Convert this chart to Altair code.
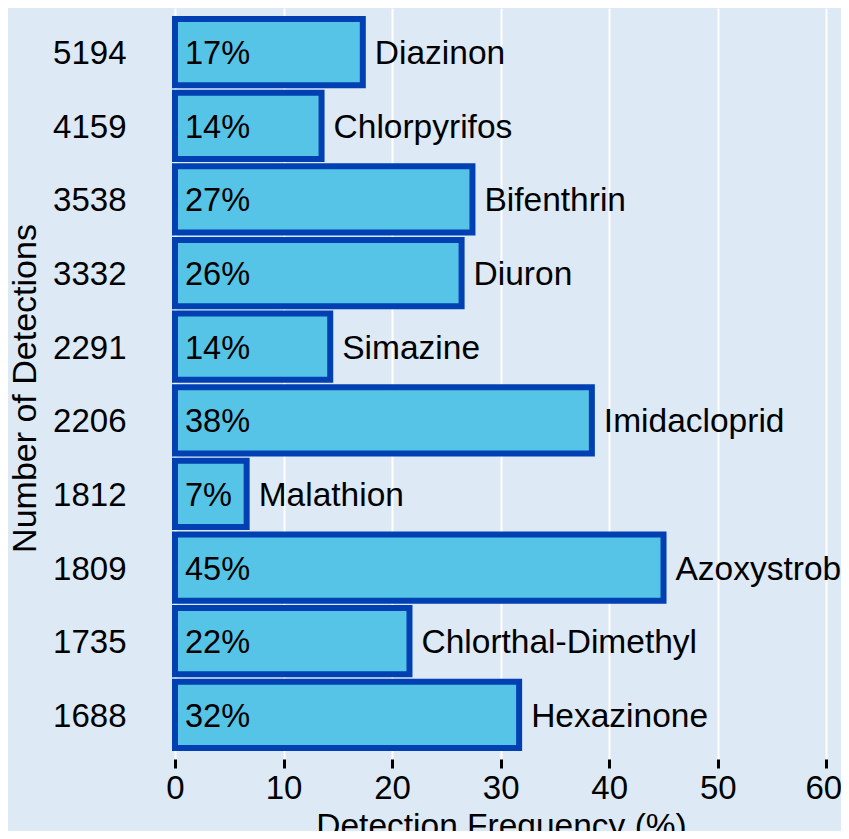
import altair as alt
import pandas as pd

names = ["Diazinon", "Chlorpyrifos", "Bifenthrin", "Diuron", "Simazine",
         "Imidacloprid", "Malathion", "Azoxystrobin", "Chlorthal-Dimethyl", "Hexazinone"]
detections = [5194, 4159, 3538, 3332, 2291, 2206, 1812, 1809, 1735, 1688]
frequency = [17.3, 13.5, 27.4, 26.4, 14.3, 38.4, 6.6, 45.0, 21.6, 31.7]
pct_labels = ["17%", "14%", "27%", "26%", "14%", "38%", "7%", "45%", "22%", "32%"]
x_ticks = [0, 10, 20, 30, 40, 50, 60]

FONT = "Liberation Sans"

df = pd.DataFrame({
    "name": names,
    "det": [str(d) for d in detections],
    "freq": frequency,
    "pct": pct_labels,
})
order = [str(d) for d in detections]

x_enc = alt.X(
    "freq:Q",
    scale=alt.Scale(domain=[0, 61.35], nice=False, zero=True),
    axis=alt.Axis(
        values=x_ticks, title="Detection Frequency (%)", grid=True,
        gridColor="white", gridWidth=2, domain=False,
        tickColor="black", tickWidth=3, tickSize=9,
        labelFont=FONT, labelFontSize=33, labelColor="black", labelPadding=4,
        labelFlush=False,
        labelOffset=alt.expr("datum.value == 60 ? -3 : 0"),
        titleFont=FONT, titleFontSize=33.5, titleFontWeight="normal", titleColor="black",
        titleX=326, titleY=77, titleAlign="center", titleBaseline="alphabetic",
    ),
)
y_enc = alt.Y(
    "det:N",
    sort=order,
    scale=alt.Scale(paddingInner=0.1, paddingOuter=0.15),
    axis=alt.Axis(
        title="Number of Detections", grid=False, ticks=False, domain=False,
        labelFont=FONT, labelFontSize=33, labelColor="black", labelPadding=49,
        labelOffset=2,
        titleFont=FONT, titleFontSize=34, titleFontWeight="normal", titleColor="black",
        titleX=-150, titleY=380, titleAngle=-90, titleAlign="center", titleBaseline="middle",
    ),
)

bars = alt.Chart(df).mark_bar(
    fill="#56c4e6", stroke="#0040b2", strokeWidth=6, cornerRadius=0
).encode(x=x_enc, y=y_enc)

pct = alt.Chart(df).mark_text(
    align="left", baseline="middle", dx=10, dy=2, font=FONT, fontSize=32.5, color="black"
).encode(x=alt.value(0), y=y_enc, text="pct:N")

lbl = alt.Chart(df).mark_text(
    align="left", baseline="middle", dx=12, dy=2, font=FONT, fontSize=33.5, color="black", clip=True
).encode(x=x_enc, y=y_enc, text="name:N")

chart = alt.layer(bars, pct, lbl).properties(
    width=666, height=751,
    padding={"left": 167, "top": 0, "right": 0, "bottom": 72},
    autosize=alt.AutoSizeParams(type="none"),
    background="#dde9f5",
).configure_view(stroke=None)

chart.save("out.html", embed_options={"renderer": "svg", "actions": False})
